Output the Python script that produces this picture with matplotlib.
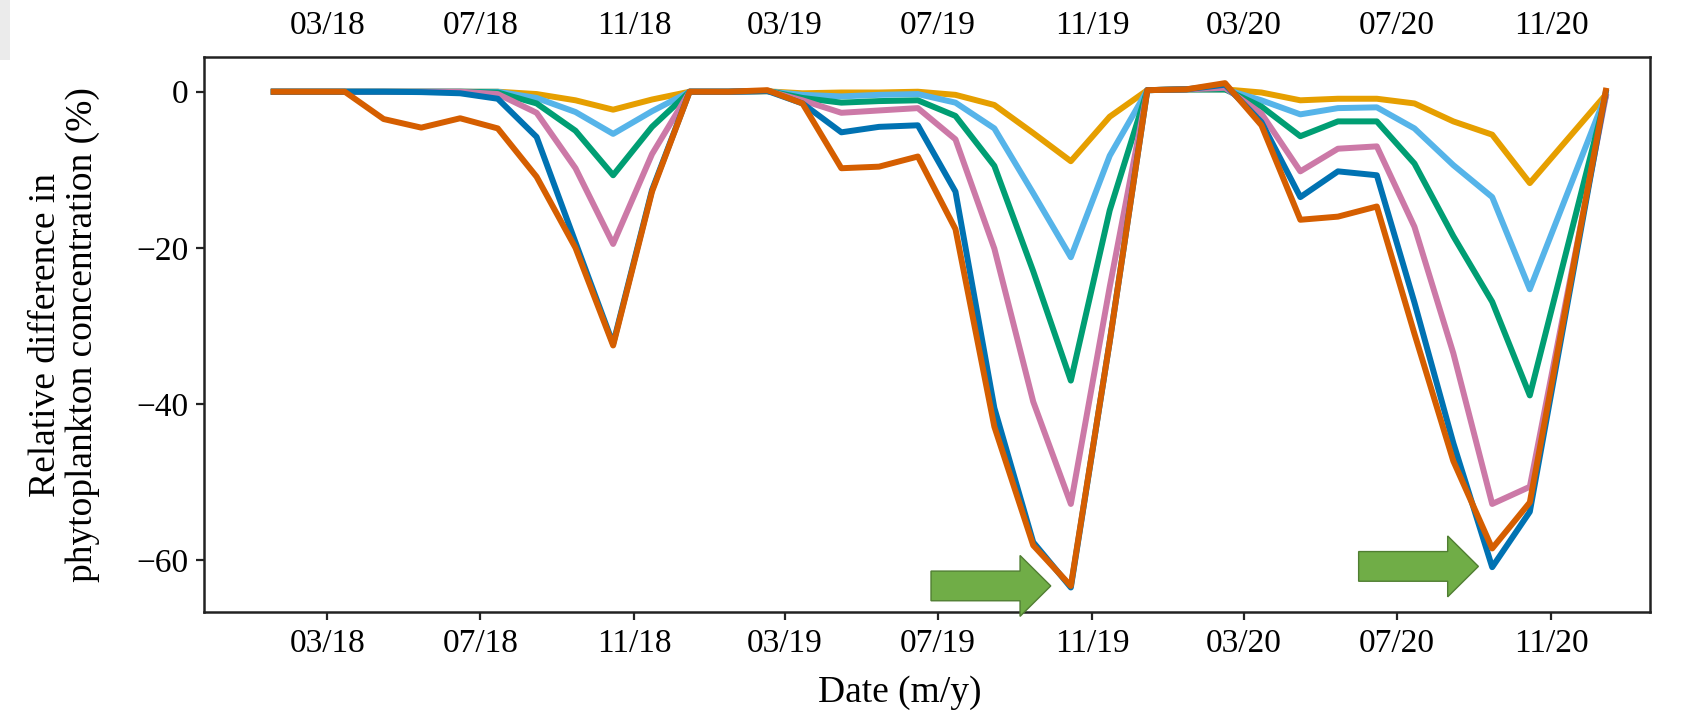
import numpy as np
import pandas as pd
import matplotlib
matplotlib.use("Agg")
import matplotlib.pyplot as plt
import matplotlib.dates as mdates
from matplotlib.patches import Polygon, Rectangle

plt.rcParams['font.family'] = ['Liberation Serif', 'DejaVu Serif']

# monthly samples (mid-month), Nov 2020 has no point in the figure
dates = pd.to_datetime([f"{y}-{m:02d}-15" for y in (2018, 2019, 2020)
                        for m in range(1, 13) if not (y == 2020 and m == 11)])

yellow = [0, 0, 0, 0, 0, 0, 0, -0.3, -1.1, -2.3, -1.0, 0,
          0, 0.05, -0.2, -0.1, -0.1, 0, -0.4, -1.7, -5.3, -8.9, -3.2, 0.2,
          0.3, 0.3, -0.1, -1.1, -0.9, -0.9, -1.5, -3.8, -5.5, -11.7, -0.3]
skyblue = [0, 0, 0, 0, 0, 0, 0, -0.8, -2.6, -5.4, -2.5, 0,
           0, 0.05, -0.4, -0.6, -0.4, -0.3, -1.4, -4.7, -13.0, -21.2, -8.2, 0.2,
           0.3, 0.3, -1.1, -2.9, -2.1, -2.0, -4.7, -9.4, -13.5, -25.3, -0.3]
green = [0, 0, 0, 0, 0, 0, -0.1, -1.5, -5.0, -10.7, -4.5, 0,
         0, 0.1, -0.8, -1.4, -1.2, -1.1, -3.1, -9.5, -23.0, -37.0, -15.2, 0.2,
         0.3, 0.3, -1.9, -5.7, -3.8, -3.8, -9.2, -18.5, -26.9, -38.9, -0.3]
pink = [0, 0, 0, 0, 0, 0, -0.3, -2.7, -9.8, -19.5, -8.0, 0,
        0, 0.1, -1.1, -2.7, -2.4, -2.1, -6.1, -20.1, -39.7, -52.8, -25.0, 0.2,
        0.3, 0.5, -2.8, -10.2, -7.3, -7.0, -17.3, -33.5, -52.8, -50.6, -0.3]
blue = [0, 0, 0, 0, -0.05, -0.2, -0.9, -5.8, -19.3, -32.3, -12.6, 0,
        0, 0.1, -1.5, -5.2, -4.5, -4.3, -12.8, -40.5, -57.7, -63.5, -32.0, 0.2,
        0.3, 0.9, -3.9, -13.5, -10.2, -10.7, -27.0, -45.0, -60.9, -53.8, 0.3]
vermillion = [0, 0, 0, -3.5, -4.6, -3.4, -4.7, -10.9, -20.0, -32.5, -12.8, 0,
              0, 0.2, -1.5, -9.8, -9.6, -8.3, -17.6, -42.9, -58.1, -63.3, -32.0, 0.2,
              0.3, 1.1, -4.3, -16.4, -16.0, -14.7, -31.0, -47.3, -58.5, -52.6, 0.5]

series = [
    (yellow, "#E69F00"),
    (skyblue, "#56B4E9"),
    (green, "#009E73"),
    (pink, "#CC79A7"),
    (blue, "#0072B2"),
    (vermillion, "#D55E00"),
]

# green arrows pointing at the two deepest minima: (tip date, tip value)
arrow_tips = [("2019-09-29", -63.3), ("2020-09-04", -60.8)]
arrow_len, head_len = 95.5, 24.5      # days
body_half, head_half = 1.9, 3.9       # % units

fig = plt.figure(figsize=(16.83, 7.14), dpi=100)
ax = fig.add_axes([0.1214, 0.1422, 0.8588, 0.778])

# faint grey strip left over from the page crop
fig.patches.append(Rectangle((0, 1 - 60 / 714), 10 / 1683, 60 / 714,
                             transform=fig.transFigure, facecolor="#ebebeb",
                             edgecolor="none"))

for vals, c in series:
    ax.plot(dates, vals, color=c, lw=4.3, solid_capstyle='butt')

for d, v in arrow_tips:
    t = mdates.date2num(pd.Timestamp(d))
    pts = [(t - arrow_len, v + body_half), (t - head_len, v + body_half),
           (t - head_len, v + head_half), (t, v),
           (t - head_len, v - head_half), (t - head_len, v - body_half),
           (t - arrow_len, v - body_half)]
    ax.add_patch(Polygon(pts, closed=True, facecolor="#70AD47",
                         edgecolor="#507E32", lw=1.0, clip_on=False, zorder=5))

ax.set_xlim(pd.Timestamp("2017-11-23"), pd.Timestamp("2021-01-18 14:00"))
ax.set_ylim(-66.7, 4.45)
ax.set_yticks([0, -20, -40, -60])

ax.xaxis.set_major_locator(mdates.MonthLocator(bymonth=[3, 7, 11]))
ax.xaxis.set_major_formatter(mdates.DateFormatter("%m/%y"))

for s in ax.spines.values():
    s.set_linewidth(1.8)
    s.set_color("#222222")
ax.tick_params(axis='both', direction='out', length=5.5, width=1.6,
               labelsize=24, pad=6, color="#222222")
ax.tick_params(axis='x', top=False, labeltop=True)

ax.set_xlabel("Date (m/y)", fontsize=27, labelpad=12)
ax.xaxis.label.set_x(0.481)
ax.set_ylabel("Relative difference in\nphytoplankton concentration (%)",
              fontsize=27, labelpad=26, linespacing=1.1)

fig.savefig("out.png", dpi=100)
